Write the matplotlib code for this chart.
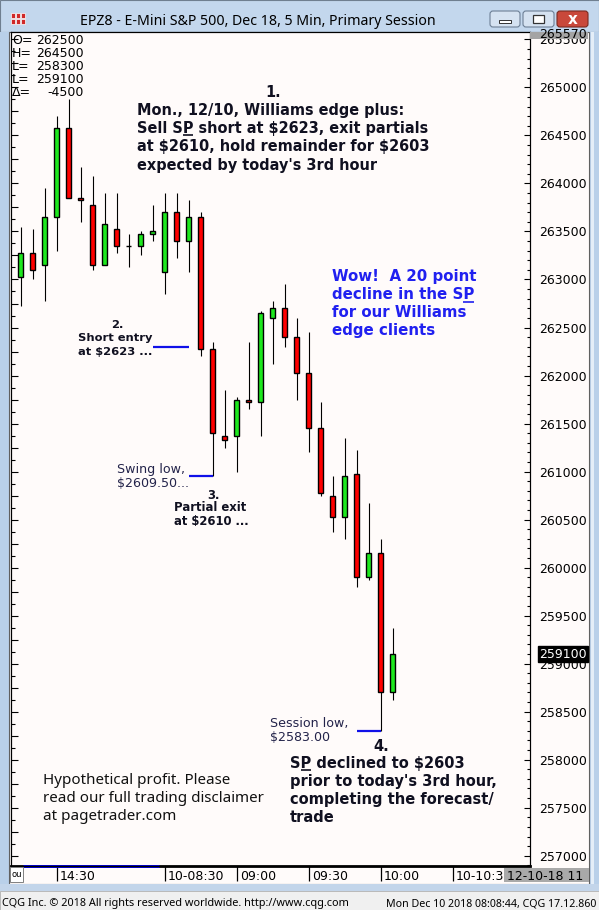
import numpy as np
import matplotlib
matplotlib.use("Agg")
import matplotlib.pyplot as plt
from matplotlib.patches import Rectangle, FancyBboxPatch
from matplotlib.ticker import MultipleLocator, FuncFormatter

W, H = 599, 910

# 5 min bars EPZ8
opens = [2630.25, 2632.75, 2631.5, 2636.5, 2645.75, 2638.5, 2637.75, 2631.5, 2635.25, 2633.5,
         2633.5, 2634.75, 2630.75, 2637.0, 2634.0, 2636.5, 2622.75, 2613.75, 2613.75, 2617.5,
         2617.25, 2626.0, 2627.0, 2624.0, 2620.25, 2614.5, 2607.5, 2605.25, 2609.75, 2599.0,
         2601.5, 2587.0]
highs = [2635.5, 2635.25, 2639.5, 2647.0, 2648.75, 2641.75, 2640.75, 2639.0, 2639.0, 2634.75,
         2635.0, 2637.75, 2639.0, 2639.0, 2638.25, 2637.0, 2623.5, 2618.5, 2617.75, 2623.5,
         2626.75, 2627.75, 2629.5, 2626.0, 2624.5, 2617.25, 2609.5, 2613.5, 2612.25, 2606.75,
         2603.0, 2593.75]
lows = [2627.25, 2630.0, 2627.75, 2633.0, 2638.5, 2636.0, 2631.0, 2631.5, 2632.75, 2631.25,
        2632.5, 2634.0, 2628.5, 2632.25, 2630.75, 2622.0, 2609.5, 2612.5, 2610.0, 2616.5,
        2613.75, 2621.25, 2623.0, 2617.5, 2612.0, 2607.5, 2603.75, 2603.0, 2598.0, 2598.75,
        2583.0, 2586.25]
closes = [2632.75, 2631.0, 2636.5, 2645.75, 2638.5, 2638.25, 2631.5, 2635.75, 2633.5, 2633.5,
          2634.75, 2635.0, 2637.0, 2634.0, 2636.5, 2622.75, 2614.0, 2613.25, 2617.5, 2617.25,
          2626.5, 2627.0, 2624.0, 2620.25, 2614.5, 2607.75, 2605.25, 2609.5, 2599.0, 2601.5,
          2587.0, 2591.0]

time_idx = [3, 12, 18, 24, 30, 36]
time_lbl = ["14:30", "10-08:30", "09:00", "09:30", "10:00", "10-10:30"]
prev_bars = 12

entry_price, entry_x = 2623.0, (11.0, 14.0)
swing_low, swing_x = 2609.5, (14.0, 16.0)
session_low, session_x = 2583.0, (28.05, 30.0)

hdr_keys = ["O=", "H=", "L=", "L=", "\u0394="]
hdr_vals = ["262500", "264500", "258300", "259100", "-4500"]

fig = plt.figure(figsize=(W / 100, H / 100), dpi=100)
fig.patch.set_facecolor("#f0f0f0")

# window chrome, pixel coords
bg = fig.add_axes([0, 0, 1, 1], zorder=-5)
bg.set_xlim(0, W); bg.set_ylim(H, 0); bg.axis("off")
bg.add_patch(Rectangle((0, 0), W, 32, fc="#c3d7ed", ec="#6f7f90", lw=0.8))
bg.add_patch(Rectangle((0, 32), 9, 852, fc="#b9d0e9", ec="none"))
bg.add_patch(Rectangle((589, 32), 10, 852, fc="#b9d0e9", ec="none"))
bg.add_patch(Rectangle((591, 32), 3, 852, fc="#e4eef8", ec="none"))
bg.add_patch(Rectangle((9, 32), 580, 852, fc="#fffbfa", ec="#606060", lw=0.8))
bg.add_patch(Rectangle((0, 884), W, 7, fc="#c3d5ea", ec="none"))
bg.add_patch(Rectangle((0, 891), W, 19, fc="#f0f0f0", ec="#b0b0b0", lw=0.6))
# icon
for r in range(2):
    for q in range(3):
        bg.add_patch(Rectangle((11 + q * 5, 13 + r * 6), 4, 5, fc="#d02828", ec="white", lw=0.5))
# buttons
bg.add_patch(FancyBboxPatch((490, 11), 30, 16, boxstyle="round,pad=0,rounding_size=3",
                            fc="#d5e2f1", ec="#6d7f95", lw=0.8))
bg.add_patch(Rectangle((499, 20), 12, 3, fc="white", ec="#333333", lw=0.7))
bg.add_patch(FancyBboxPatch((523, 11), 31, 16, boxstyle="round,pad=0,rounding_size=3",
                            fc="#d5e2f1", ec="#6d7f95", lw=0.8))
bg.add_patch(Rectangle((533, 15), 11, 8, fc="white", ec="#333333", lw=0.9))
bg.add_patch(FancyBboxPatch((557, 11), 31, 16, boxstyle="round,pad=0,rounding_size=3",
                            fc="#c9483b", ec="#7a2a20", lw=0.8))
bg.text(572.5, 19.5, "x", color="white", fontsize=11, fontweight="bold", ha="center", va="center")

# main chart
ax = fig.add_axes([11 / W, 1 - 866 / H, (530 - 11) / W, (866 - 32) / H], zorder=1)
ax.set_facecolor("#fffbfa")
ax.set_xlim(-0.81, 42.44)
ax.set_ylim(2568.93, 2655.77)

o = np.array(opens); c = np.array(closes)
idx = np.arange(len(o))
cols = np.where(c >= o, "#1ee81e", "#ff0000")
ax.vlines(idx, lows, highs, color="black", lw=0.8, zorder=2)
ax.bar(idx, np.abs(c - o), bottom=np.minimum(o, c), width=0.45, color=cols,
       edgecolor="black", linewidth=1.0, zorder=3)

ax.hlines(entry_price, *entry_x, color="#1010e8", lw=1.6, zorder=4)
ax.hlines(swing_low, *swing_x, color="#1010e8", lw=1.6, zorder=4)
ax.hlines(session_low, *session_x, color="#1010e8", lw=1.6, zorder=4)

for s in ["top", "right", "left"]:
    ax.spines[s].set_linewidth(0.8)
ax.spines["bottom"].set_linewidth(2.0)
ax.yaxis.set_major_locator(MultipleLocator(2.5))
ax.yaxis.set_minor_locator(MultipleLocator(1.25))
ax.tick_params(axis="y", which="major", direction="in", length=5, width=0.8, labelleft=False)
ax.tick_params(axis="y", which="minor", direction="in", length=3, width=0.8)
ax.set_xticks(time_idx)
ax.tick_params(axis="x", direction="out", length=11, width=0.9, labelbottom=False)
blend = ax.get_xaxis_transform()
ax.plot([0.2, prev_bars - 0.5], [0, 0], transform=blend, color="#0000e0", lw=2.0,
        clip_on=False, zorder=5, solid_capstyle="butt")
for i, lb in zip(time_idx, time_lbl):
    ax.annotate(lb, xy=(i, 0), xycoords=blend, xytext=(2.4, -10), textcoords="offset points",
                fontsize=9, va="baseline", ha="left", annotation_clip=False)

tw = ax.twinx()
tw.set_ylim(ax.get_ylim())
tw.yaxis.set_major_locator(MultipleLocator(5))
tw.yaxis.set_minor_locator(MultipleLocator(1))
tw.yaxis.set_major_formatter(FuncFormatter(lambda v, p: f"{int(round(v * 100))}"))
tw.tick_params(axis="y", which="major", direction="in", length=4, width=0.8, pad=6.5, labelsize=9)
tw.tick_params(axis="y", which="minor", direction="in", length=2, width=0.8)
tw.annotate(f"{int(round(closes[-1] * 100))}", xy=(1, closes[-1]),
            xycoords=("axes fraction", "data"), xytext=(6.6, 0), textcoords="offset points",
            color="white", fontsize=9, va="center", ha="left", annotation_clip=False,
            bbox=dict(boxstyle="square,pad=0.12", fc="black", ec="black"))

# overlay for texts, pixel coords
ov = fig.add_axes([0, 0, 1, 1], zorder=10)
ov.set_xlim(0, W); ov.set_ylim(H, 0); ov.axis("off"); ov.patch.set_visible(False)
R = fig.canvas.get_renderer()


def text_w(s, **kw):
    if not s:
        return 0.0
    t = ov.text(0, 0, s, parse_math=False, **kw)
    w = t.get_window_extent(R).width
    t.remove()
    return w


def fit(s, width, **kw):
    return 10.0 * width / text_w(s, fontsize=10, **kw)


def lines(x, y0, dy, rows, size, under=(), **kw):
    for k, s in enumerate(rows):
        ov.text(x, y0 + k * dy, s, fontsize=size, va="baseline", ha="left", parse_math=False, **kw)
    for k, i in under:
        a = text_w(rows[k][:i], fontsize=size, **kw)
        b = text_w(rows[k][:i + 1], fontsize=size, **kw)
        yy = y0 + k * dy + 2.2
        ov.plot([x + a, x + b], [yy, yy], color=kw.get("color", "k"), lw=1.2,
                solid_capstyle="butt")


# title + status
title = "EPZ8 - E-Mini S&P 500, Dec 18, 5 Min, Primary Session"
ts = fit(title, 355, family="Noto Sans")
ov.text(80, 25, title, fontsize=ts, family="Noto Sans", va="baseline")
st1 = "CQG Inc. \u00a9 2018 All rights reserved worldwide. http://www.cqg.com"
st2 = "Mon Dec 10 2018 08:08:44, CQG 17.12.860"
ss = fit(st1, 347, family="Noto Sans")
ov.text(2, 906, st1, fontsize=ss, family="Noto Sans", va="baseline")
ov.text(386, 906, st2, fontsize=fit(st2, 210, family="Noto Sans"), family="Noto Sans", va="baseline")

# header values
for k, (a, b) in enumerate(zip(hdr_keys, hdr_vals)):
    ov.text(12, 44.3 + k * 13, a, fontsize=9, va="baseline")
    ov.text(83.5, 44.3 + k * 13, b, fontsize=9, va="baseline", ha="right")

# grey boxes on the axes
g1 = Rectangle((530, 32), 58, 7, fc="#a4a4a4", ec="none", zorder=3)
ov.add_patch(g1)
t1 = ov.text(539, 37.5, "265570", fontsize=9, va="baseline", zorder=4)
t1.set_clip_path(g1)
g2 = Rectangle((504, 868), 85, 14, fc="#a9a9a9", ec="none", zorder=3)
ov.add_patch(g2)
t2 = ov.text(507, 880, "12-10-18 11", fontsize=9, va="baseline", zorder=4)
t2.set_clip_path(g2)
ov.add_patch(Rectangle((10, 867), 13, 15, fc="white", ec="#808080", lw=0.7))
ov.text(11, 877, "ou", fontsize=6, va="baseline")

# annotations
BK = "#101020"
BL = "#2020f0"
NV = "#23234a"
bold = dict(family="DejaVu Sans", fontweight="bold")

main = ["Mon., 12/10, Williams edge plus:",
        "Sell SP short at $2623, exit partials",
        "at $2610, hold remainder for $2603",
        "expected by today's 3rd hour"]
ms = fit(main[0], 267.6, **bold)
ov.text(273.5, 96.7, "1.", fontsize=ms, ha="center", va="baseline", color=BK, **bold)
lines(136.7, 115, 18.2, main, ms, under=[(1, 6)], color=BK, **bold)

wow = ["Wow!  A 20 point", "decline in the SP", "for our Williams", "edge clients"]
lines(331.7, 281.5, 17.8, wow, fit(wow[2], 135, **bold), under=[(1, 16)], color=BL, **bold)

es = fit("Short entry", 74.3, **bold)
ov.text(117.5, 328.3, "2.", fontsize=es, ha="center", va="baseline", color=BK, **bold)
lines(78.3, 340.7, 14.3, ["Short entry", "at $2623 ..."], es, color=BK, **bold)

ns = fit("Swing low,", 67.7, family="DejaVu Sans")
lines(117.3, 473.3, 13.8, ["Swing low,", "$2609.50..."], ns, color=NV, family="DejaVu Sans")

ps = fit("Partial exit", 72.3, **bold)
ov.text(213.5, 498.7, "3.", fontsize=ps, ha="center", va="baseline", color=BK, **bold)
lines(174.3, 511, 14.2, ["Partial exit", "at $2610 ..."], ps, color=BK, **bold)

lines(270, 727.3, 14, ["Session low,", "$2583.00"], ns, color=NV, family="DejaVu Sans")

fin = ["SP declined to $2603", "prior to today's 3rd hour,", "completing the forecast/", "trade"]
fs = fit(fin[0], 174.3, **bold)
ov.text(381, 750.7, "4.", fontsize=fs, ha="center", va="baseline", color=BK, **bold)
lines(290, 767.7, 18.2, fin, fs, under=[(0, 1)], color=BK, **bold)

hyp = ["Hypothetical profit. Please", "read our full trading disclaimer", "at pagetrader.com"]
lines(42.7, 784.3, 17.9, hyp, fit(hyp[1], 221.3, family="Noto Sans"), color="#111111",
      family="Noto Sans")

fig.savefig("out.png", dpi=100, facecolor=fig.get_facecolor())
